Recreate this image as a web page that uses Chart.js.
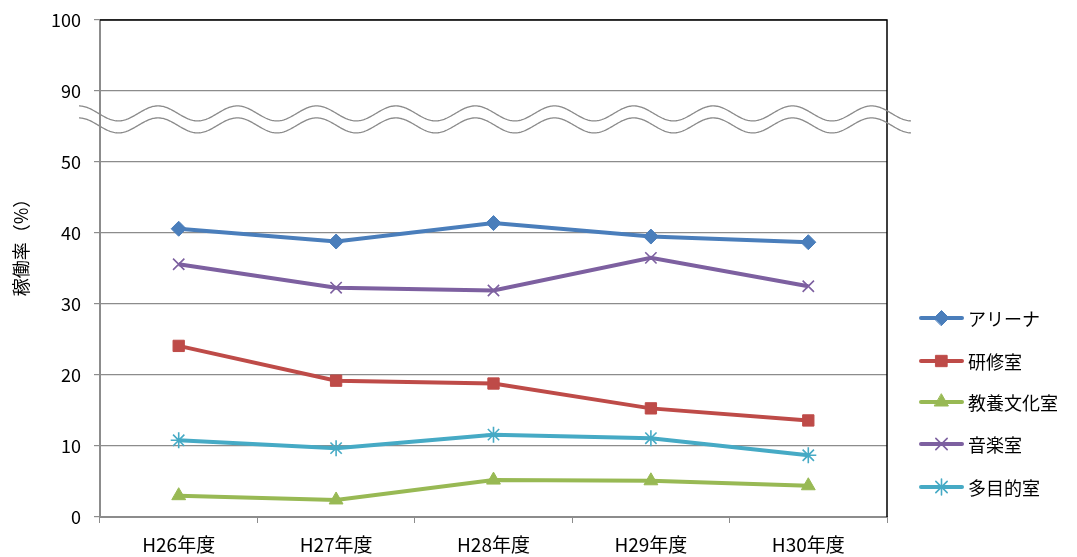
<!DOCTYPE html>
<html>
<head>
<meta charset="utf-8">
<script src="https://cdn.jsdelivr.net/npm/chart.js@4.4.1/dist/chart.umd.min.js"></script>
<style>
  html, body { margin: 0; padding: 0; background: #fff; }
  #wrap { width: 1077px; height: 557px; }
</style>
</head>
<body>
<div id="wrap"><canvas id="rateChart" width="1077" height="557"></canvas></div>
<script>
var years = ['H26年度', 'H27年度', 'H28年度', 'H29年度', 'H30年度'];
var seriesNames = ['アリーナ', '研修室', '教養文化室', '音楽室', '多目的室'];
var arena = [40.6, 38.8, 41.4, 39.5, 38.7];
var training = [24.1, 19.2, 18.8, 15.3, 13.6];
var culture = [3.0, 2.4, 5.2, 5.1, 4.4];
var music = [35.6, 32.3, 31.9, 36.5, 32.5];
var multi = [10.8, 9.7, 11.6, 11.1, 8.7];
// the axis is cut between 50 and 90, so the top two steps get relabelled
var yTickLabels = { 0: '0', 10: '10', 20: '20', 30: '30', 40: '40', 50: '50', 60: '90', 70: '100' };

var FONT = "'Noto Sans CJK JP', 'Noto Sans', sans-serif";
var GRID = '#8c8c8c';

function makeSet(label, data, color, style, radius) {
    return {
        label: label,
        data: data,
        borderColor: color,
        backgroundColor: color,
        borderWidth: 4,
        pointStyle: style,
        pointRadius: radius,
        pointHoverRadius: radius,
        pointBorderColor: color,
        pointBackgroundColor: color,
        pointBorderWidth: (style == 'crossRot' || style == 'star') ? 1.6 : 1,
        tension: 0
    };
}

// double wavy line marking the broken axis
var axisBreak = {
    id: 'axisBreak',
    afterDraw: function (chart) {
        var ctx = chart.ctx;
        var area = chart.chartArea;
        var y = chart.scales.y.getPixelForValue(56);
        var x0 = area.left - 21, x1 = area.right + 24;
        ctx.save();
        ctx.strokeStyle = '#8a8a8a';
        ctx.lineWidth = 1.3;
        [-6, 6].forEach(function (off) {
            ctx.beginPath();
            for (var x = x0; x <= x1; x += 1) {
                var yy = y + off - 7.5 * Math.cos(2 * Math.PI * (x - 158) / 79.3);
                if (x == x0) ctx.moveTo(x, yy); else ctx.lineTo(x, yy);
            }
            ctx.stroke();
        });
        ctx.restore();
    }
};

// black frame on the top and right of the plot area
var frame = {
    id: 'frame',
    afterDatasetsDraw: function (chart) {
        var ctx = chart.ctx;
        var a = chart.chartArea;
        ctx.save();
        ctx.strokeStyle = '#000';
        ctx.lineWidth = 1.5;
        ctx.beginPath();
        ctx.moveTo(a.left, a.top);
        ctx.lineTo(a.right, a.top);
        ctx.lineTo(a.right, a.bottom);
        ctx.stroke();
        ctx.restore();
    }
};

// rotated y title and a legend with line + marker samples
var labels = {
    id: 'labels',
    afterDraw: function (chart) {
        var ctx = chart.ctx;
        ctx.save();
        ctx.fillStyle = '#000';
        ctx.font = '18px ' + FONT;
        ctx.textAlign = 'center';
        ctx.textBaseline = 'middle';
        ctx.translate(21, 243);
        ctx.rotate(-Math.PI / 2);
        ctx.fillText('稼働率（%）', 0, 0);
        ctx.restore();

        var rowY = [318, 361, 402, 444, 487];
        chart.data.datasets.forEach(function (ds, i) {
            var y = rowY[i];
            ctx.save();
            ctx.strokeStyle = ds.borderColor;
            ctx.lineWidth = 4;
            ctx.lineCap = 'round';
            ctx.beginPath();
            ctx.moveTo(921, y);
            ctx.lineTo(962, y);
            ctx.stroke();
            ctx.fillStyle = ds.borderColor;
            ctx.lineWidth = ds.pointBorderWidth;
            Chart.helpers.drawPoint(ctx, {
                pointStyle: ds.pointStyle,
                radius: ds.pointRadius,
                rotation: 0,
                borderWidth: ds.pointBorderWidth
            }, 941.5, y);
            ctx.fillStyle = '#000';
            ctx.font = '18px ' + FONT;
            ctx.textAlign = 'left';
            ctx.textBaseline = 'middle';
            ctx.fillText(ds.label, 968, y + 1);
            ctx.restore();
        });
    }
};

var ctx = document.getElementById('rateChart').getContext('2d');
var rateChart = new Chart(ctx, {
    type: 'line',
    data: {
        labels: years,
        datasets: [
            makeSet(seriesNames[0], arena, '#4A7EBB', 'rectRot', 7.5),
            makeSet(seriesNames[1], training, '#BE4B48', 'rect', 8),
            makeSet(seriesNames[2], culture, '#98B954', 'triangle', 8),
            makeSet(seriesNames[3], music, '#7D60A0', 'crossRot', 8),
            makeSet(seriesNames[4], multi, '#46AAC5', 'star', 8)
        ]
    },
    options: {
        responsive: false,
        animation: false,
        layout: { padding: { left: 0, right: 190, top: 20, bottom: 0 } },
        plugins: {
            legend: { display: false },
            tooltip: { enabled: false }
        },
        scales: {
            x: {
                offset: true,
                grid: {
                    offset: true,
                    drawOnChartArea: false,
                    drawTicks: true,
                    tickLength: 6,
                    color: GRID
                },
                border: { color: GRID, width: 2 },
                ticks: {
                    color: '#000',
                    padding: 10,
                    maxRotation: 0,
                    font: { family: FONT, size: 19 }
                },
                afterFit: function (scale) {
                    scale.height = 40;
                    scale.paddingLeft = 0;
                    scale.paddingRight = 0;
                }
            },
            y: {
                min: 0,
                max: 70,
                grid: {
                    color: GRID,
                    lineWidth: 1.2,
                    tickLength: 6
                },
                border: { color: GRID, width: 2 },
                ticks: {
                    stepSize: 10,
                    color: '#000',
                    padding: 13,
                    font: { family: FONT, size: 18 },
                    callback: function (v) { return yTickLabels[v]; }
                },
                afterFit: function (scale) {
                    scale.width = 100;
                    scale.paddingTop = 0;
                    scale.paddingBottom = 0;
                }
            }
        }
    },
    plugins: [frame, axisBreak, labels]
});
</script>
</body>
</html>
